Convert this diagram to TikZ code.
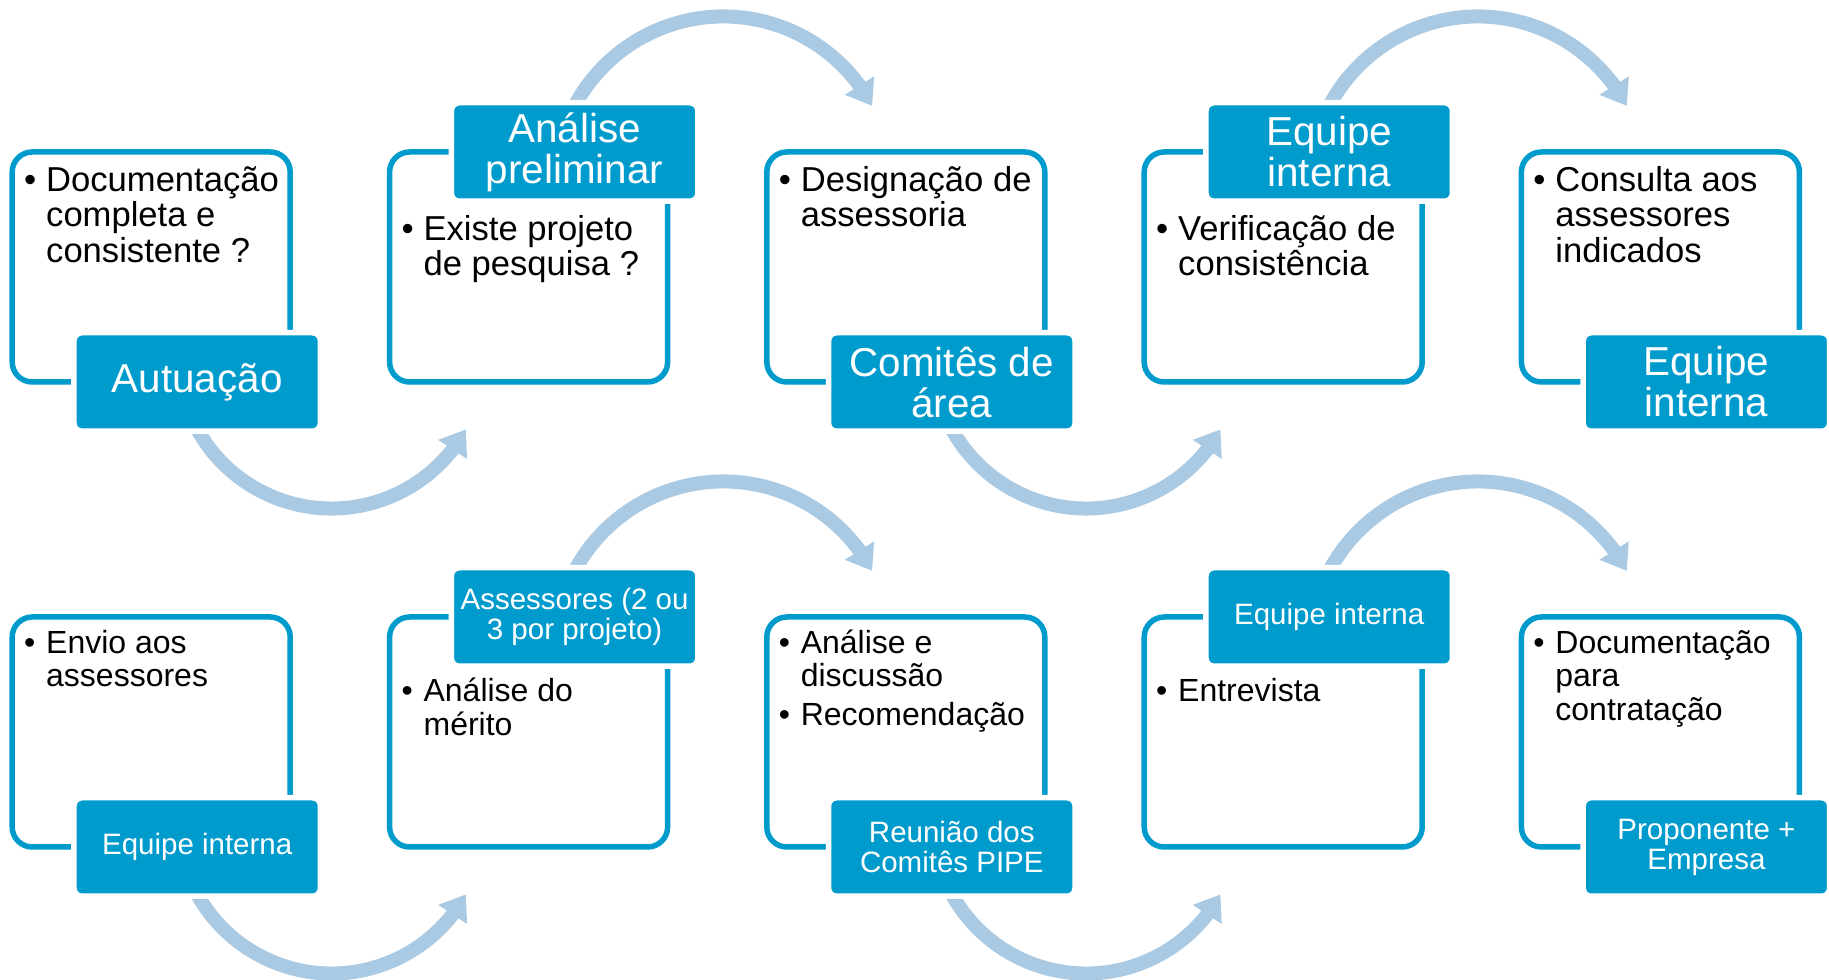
\documentclass[tikz,border=0pt]{standalone}
\usepackage{fontspec}
\setmainfont{Liberation Sans}
\usetikzlibrary{arrows.meta,bending,positioning}

\definecolor{pipeblue}{RGB}{0,155,205}
\definecolor{arcblue}{RGB}{170,201,226}

\newlength{\bulw}
\setlength{\bulw}{11pt}
\newcommand{\itemline}[1]{\hbox{\makebox[\bulw][l]{\textbullet}#1}}
\newcommand{\contline}[1]{\hbox{\hspace*{\bulw}#1}}

\begin{document}
\begin{tikzpicture}[
  x = 1pt, y = 1pt,
  box/.style = {draw=pipeblue,line width=2.75pt,rounded corners=10pt,minimum width=139pt,minimum height=115pt,inner sep=0pt,outer sep=0pt},
  tag/.style = {fill=pipeblue,draw=white,line width=2.75pt,rounded corners=4pt,minimum width=123.25pt,minimum height=49.25pt,inner sep=0pt,text=white,align=center},
  bigtag/.style = {tag,font=\fontsize{20.2pt}{20.5pt}\selectfont},
  smalltag/.style = {tag,font=\fontsize{14.75pt}{15pt}\selectfont},
  txt/.style = {anchor=base west,inner sep=0pt},
  bigtxt/.style = {txt,font=\fontsize{17.3pt}{17.65pt}\selectfont},
  smalltxt/.style = {txt,font=\fontsize{16pt}{16.7pt}\selectfont},
  flow/.style = {draw=arcblue,line width=7pt,-{Triangle[length=12pt,width=16.5pt]}}
  ]
  \useasboundingbox (0,0) rectangle (914.5,489.5);

  % first row
  \node[box] (b1) at (75.6,356) {};
  \node[box] (b2) at (264.3,356) {};
  \node[box] (b3) at (452.9,356) {};
  \node[box] (b4) at (641.6,356) {};
  \node[box] (b5) at (830.2,356) {};

  % second row
  \node[box] (b6) at (75.6,123.5) {};
  \node[box] (b7) at (264.3,123.5) {};
  \node[box] (b8) at (452.9,123.5) {};
  \node[box] (b9) at (641.6,123.5) {};
  \node[box] (b10) at (830.2,123.5) {};

  \draw[flow] ([shift={(90.2,13.5)}]b1.south) ++(200:76.75pt) arc[start angle=200,end angle=331,radius=76.75pt];
  \draw[flow] ([shift={(97.4,-16.5)}]b2.north) ++(160:84.25pt) arc[start angle=160,end angle=28,radius=84.25pt];
  \draw[flow] ([shift={(90.2,13.5)}]b3.south) ++(200:76.75pt) arc[start angle=200,end angle=331,radius=76.75pt];
  \draw[flow] ([shift={(97.4,-16.5)}]b4.north) ++(160:84.25pt) arc[start angle=160,end angle=28,radius=84.25pt];
  \draw[flow] ([shift={(90.2,13.5)}]b6.south) ++(200:76.75pt) arc[start angle=200,end angle=331,radius=76.75pt];
  \draw[flow] ([shift={(97.4,-16.5)}]b7.north) ++(160:84.25pt) arc[start angle=160,end angle=28,radius=84.25pt];
  \draw[flow] ([shift={(90.2,13.5)}]b8.south) ++(200:76.75pt) arc[start angle=200,end angle=331,radius=76.75pt];
  \draw[flow] ([shift={(97.4,-16.5)}]b9.north) ++(160:84.25pt) arc[start angle=160,end angle=28,radius=84.25pt];

  \node[bigtag] (l1) at ([xshift=23pt]b1.south) {Autuação};
  \node[bigtag] (l2) at ([xshift=23pt]b2.north) {Análise\\preliminar};
  \node[bigtag] (l3) at ([xshift=23pt]b3.south) {Comitês de\\área};
  \node[bigtag] (l4) at ([xshift=23pt]b4.north) {Equipe\\interna};
  \node[bigtag] (l5) at ([xshift=23pt]b5.south) {Equipe\\interna};

  \node[smalltag] (l6) at ([xshift=23pt]b6.south) {Equipe interna};
  \node[smalltag] (l7) at ([xshift=23pt]b7.north) {Assessores (2 ou\\3 por projeto)};
  \node[smalltag] (l8) at ([xshift=23pt]b8.south) {Reunião dos\\Comitês PIPE};
  \node[smalltag] (l9) at ([xshift=23pt]b9.north) {Equipe interna};
  \node[smalltag] (l10) at ([xshift=23pt]b10.south) {Proponente +\\Empresa};

  \node[bigtxt] (t1) at ([xshift=5.8pt,yshift=-19.85pt]b1.north west)
    {\vtop{\itemline{Documentação}\contline{completa e}\contline{consistente ?}}};
  \node[bigtxt] (t2) at ([xshift=5.8pt,yshift=-44.35pt]b2.north west)
    {\vtop{\itemline{Existe projeto}\contline{de pesquisa ?}}};
  \node[bigtxt] (t3) at ([xshift=5.8pt,yshift=-19.85pt]b3.north west)
    {\vtop{\itemline{Designação de}\contline{assessoria}}};
  \node[bigtxt] (t4) at ([xshift=5.8pt,yshift=-44.35pt]b4.north west)
    {\vtop{\itemline{Verificação de}\contline{consistência}}};
  \node[bigtxt] (t5) at ([xshift=5.8pt,yshift=-19.85pt]b5.north west)
    {\vtop{\itemline{Consulta aos}\contline{assessores}\contline{indicados}}};

  \node[smalltxt] (t6) at ([xshift=5.8pt,yshift=-18.15pt]b6.north west)
    {\vtop{\itemline{Envio aos}\contline{assessores}}};
  \node[smalltxt] (t7) at ([xshift=5.8pt,yshift=-42.5pt]b7.north west)
    {\vtop{\itemline{Análise do}\contline{mérito}}};
  \node[smalltxt] (t8) at ([xshift=5.8pt,yshift=-18.15pt]b8.north west)
    {\vtop{\itemline{Análise e}\contline{discussão}\vskip2.8pt\itemline{Recomendação}}};
  \node[smalltxt] (t9) at ([xshift=5.8pt,yshift=-42.5pt]b9.north west)
    {\vtop{\itemline{Entrevista}}};
  \node[smalltxt] (t10) at ([xshift=5.8pt,yshift=-18.15pt]b10.north west)
    {\vtop{\itemline{Documentação}\contline{para}\contline{contratação}}};
\end{tikzpicture}
\end{document}
